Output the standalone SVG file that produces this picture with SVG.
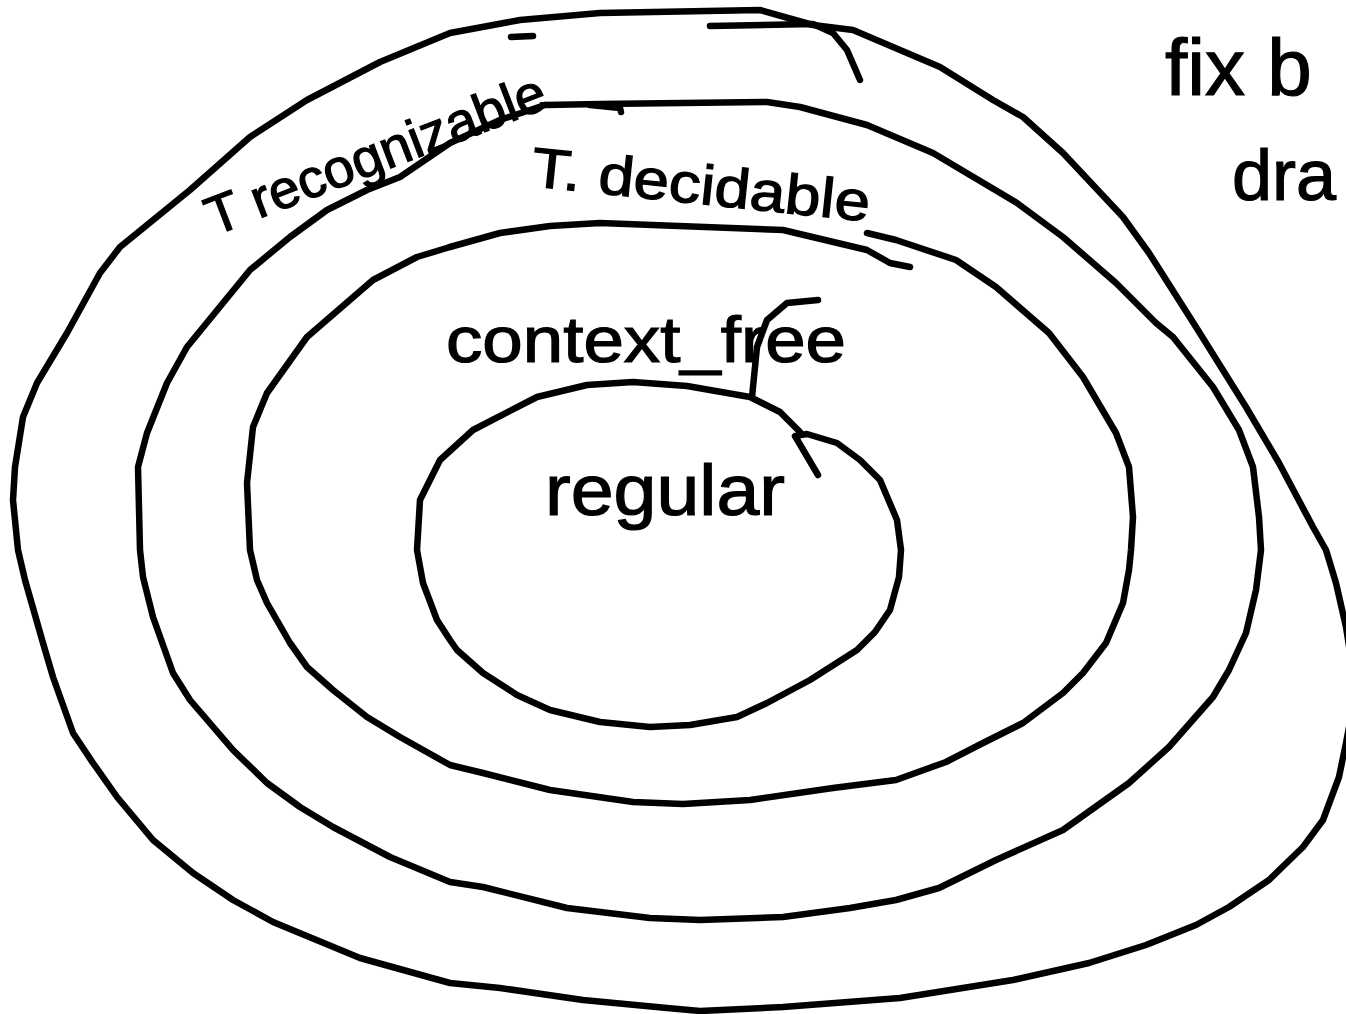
<svg xmlns="http://www.w3.org/2000/svg" width="1346" height="1014" viewBox="0 0 1346 1014">
<style>
.ln{fill:none;stroke:#000;stroke-width:6.5;stroke-linejoin:round;stroke-linecap:round}
.tx{font-family:"Liberation Sans","DejaVu Sans",sans-serif;fill:#000;stroke:#000;stroke-width:1.2}
</style>
<rect width="1346" height="1014" fill="#fff"/>
<g id="t-recognizable">
<path class="ln" d="M600,13 L760,10 L813,25 L853,30 L940,67 L993,100 L1023,117 L1063,153 L1123,217 L1149,253 L1196,327 L1246,407 L1279,463 L1313,527 L1326,550 L1336,583 L1346,627 L1356,690 L1346,743 L1339,777 L1323,820 L1303,847 L1269,880 L1229,907 L1196,925 L1146,945 L1089,963 L1013,980 L900,998 L783,1007 L700,1011 L667,1008 L583,1000 L500,988 L450,983 L360,958 L273,922 L233,900 L193,873 L153,840 L117,797 L93,763 L73,733 L53,677 L43,643 L25,580 L18,550 L13,500 L15,467 L23,417 L37,383 L67,333 L100,273 L120,247 L190,190 L250,137 L307,100 L380,62 L450,33 L520,20 Z"/>
<text class="tx" x="0" y="0" font-size="54" textLength="360" lengthAdjust="spacingAndGlyphs" transform="translate(214,236) rotate(-21)">T recognizable</text>
</g>
<g id="t-decidable">
<path class="ln" d="M450,143 L500,120 L545,105 L600,104 L767,102 L800,107 L867,125 L933,153 L1017,203 L1063,237 L1116,283 L1156,323 L1173,337 L1213,387 L1239,430 L1253,467 L1259,517 L1261,550 L1256,590 L1246,633 L1229,670 L1213,697 L1169,747 L1129,783 L1063,830 L996,860 L939,888 L896,900 L850,908 L783,917 L700,920 L650,918 L567,908 L483,887 L450,882 L390,857 L333,827 L300,807 L267,783 L233,750 L190,700 L173,673 L153,617 L143,577 L140,550 L138,467 L147,433 L167,383 L187,347 L250,270 L290,237 L327,210 L367,190 L400,177 Z"/>
<text class="tx" x="0" y="0" font-size="56" textLength="340" lengthAdjust="spacingAndGlyphs" transform="translate(530,186) rotate(6)">T. decidable</text>
</g>
<g id="context-free">
<path class="ln" d="M450,247 L500,233 L550,226 L600,223 L783,230 L867,250 L890,263 L910,267"/>
<path class="ln" d="M867,233 L896,240 L956,260 L996,287 L1049,333 L1083,377 L1116,433 L1129,467 L1133,517 L1131,550 L1129,570 L1123,603 L1106,643 L1083,673 L1063,693 L1023,723 L983,743 L946,762 L896,780 L833,788 L750,800 L683,804 L633,802 L550,790 L483,773 L450,765 L400,737 L367,717 L333,690 L307,667 L290,643 L267,603 L257,580 L250,550 L247,483 L253,427 L267,393 L307,337 L373,280 L417,257 L450,247"/>
<text class="tx" x="446" y="362" font-size="64" textLength="400" lengthAdjust="spacingAndGlyphs">context_free</text>
</g>
<g id="regular">
<path class="ln" d="M818,475 L795,436 L807,434 L837,443 L860,460 L880,480 L897,520 L901,550 L899,577 L890,610 L875,632 L857,650 L810,680 L767,703 L737,717 L690,725 L650,727 L600,722 L550,710 L517,695 L483,673 L457,650 L450,640 L437,620 L423,583 L417,550 L420,500 L440,460 L473,430 L537,397 L587,385 L633,382 L687,386 L750,397 L780,412 L800,432"/>
<text class="tx" x="545" y="515" font-size="72" textLength="240" lengthAdjust="spacingAndGlyphs">regular</text>
</g>
<g id="note">
<text class="tx" x="1165" y="95" font-size="80">fix b</text>
<text class="tx" x="1232" y="200" font-size="72">dra</text>
</g>
<g id="connectors">
<path class="ln" d="M710,26 L813,24 L833,33 L847,50 L860,80"/>
<path class="ln" d="M511,37 L533,36"/>
<path class="ln" d="M590,105 L620,108 L621,112"/>
<path class="ln" d="M752,397 L757,347 L767,320 L787,303 L818,300"/>
</g>
</svg>
